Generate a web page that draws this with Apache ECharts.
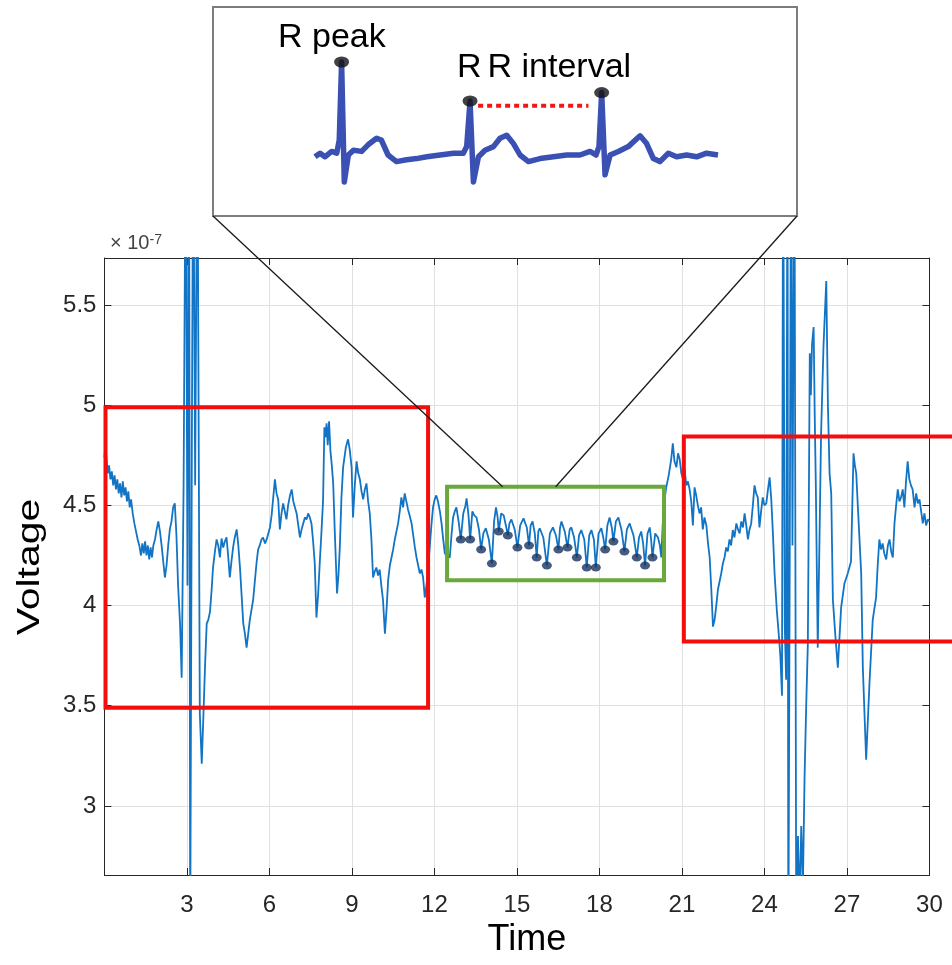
<!DOCTYPE html>
<html>
<head>
<meta charset="utf-8">
<title>ECG voltage trace with clean and noisy windows</title>
<script src="https://cdn.jsdelivr.net/npm/echarts@6/dist/echarts.min.js"></script>
<style>
  html, body { margin: 0; padding: 0; background: #ffffff; }
  #chart { width: 952px; height: 965px; }
</style>
</head>
<body>
<div id="chart"></div>
<script>
// ---------------------------------------------------------------
// Recorded voltage (units of 1e-7 V) against time (s)
// ---------------------------------------------------------------
const voltageTrace = [
  // 0 – 2.8 s : slow decay after start
  [0.00,4.74],[0.04,4.80],[0.08,4.73],[0.12,4.66],[0.17,4.70],[0.22,4.63],[0.27,4.67],[0.32,4.60],
  [0.37,4.65],[0.42,4.58],[0.47,4.63],[0.52,4.56],[0.57,4.61],[0.62,4.54],[0.67,4.62],[0.72,4.55],
  [0.77,4.59],[0.82,4.52],[0.87,4.57],[0.92,4.49],[0.97,4.53],[1.03,4.46],[1.09,4.41],[1.15,4.37],
  [1.21,4.33],[1.27,4.30],[1.33,4.25],[1.38,4.31],[1.43,4.26],[1.48,4.32],[1.53,4.25],[1.58,4.30],
  [1.63,4.23],[1.68,4.29],[1.73,4.24],[1.78,4.30],[1.84,4.33],[1.90,4.38],[1.96,4.42],[2.02,4.37],
  [2.08,4.30],[2.14,4.22],[2.20,4.14],[2.26,4.20],[2.32,4.30],[2.38,4.38],[2.44,4.42],[2.50,4.49],
  [2.56,4.51],[2.62,4.35],[2.68,4.10],[2.75,3.91],[2.81,3.64],
  // motion artefact around 3 s
  [2.88,4.60],[2.96,6.50],[3.02,4.10],[3.08,6.50],[3.12,2.30],[3.18,4.80],[3.23,6.50],[3.30,4.60],
  [3.38,6.50],[3.47,3.46],[3.54,3.21],
  // 3.5 – 12.8 s
  [3.60,3.45],[3.66,3.70],[3.72,3.91],[3.78,3.93],[3.84,3.97],[3.90,4.08],[3.95,4.19],[4.02,4.27],
  [4.08,4.33],[4.14,4.30],[4.20,4.24],[4.26,4.335],[4.32,4.29],[4.38,4.32],[4.44,4.34],[4.50,4.25],
  [4.56,4.14],[4.62,4.22],[4.68,4.29],[4.74,4.34],[4.81,4.38],[4.87,4.30],[4.93,4.19],[4.99,4.05],
  [5.05,3.91],[5.11,3.86],[5.17,3.79],[5.23,3.86],[5.29,3.93],[5.35,3.98],[5.41,4.03],[5.47,4.12],
  [5.53,4.21],[5.59,4.28],[5.65,4.30],[5.71,4.33],[5.77,4.34],[5.84,4.31],[5.90,4.33],[5.96,4.36],
  [6.02,4.39],[6.08,4.45],[6.14,4.54],[6.20,4.63],[6.26,4.56],[6.32,4.53],[6.38,4.38],[6.44,4.46],
  [6.50,4.51],[6.56,4.47],[6.62,4.43],[6.68,4.50],[6.75,4.55],[6.81,4.58],[6.87,4.52],[6.93,4.49],
  [6.99,4.46],[7.05,4.40],[7.11,4.34],[7.17,4.38],[7.23,4.41],[7.29,4.44],[7.35,4.43],[7.41,4.46],
  [7.47,4.44],[7.53,4.41],[7.59,4.32],[7.65,4.21],[7.71,3.94],[7.77,4.05],[7.83,4.21],[7.89,4.36],
  [7.95,4.52],[8.00,4.89],[8.04,4.84],[8.08,4.91],[8.12,4.80],[8.17,4.92],[8.22,4.77],[8.27,4.70],
  [8.32,4.61],[8.38,4.36],[8.46,4.06],[8.51,4.15],[8.56,4.29],[8.62,4.54],[8.68,4.69],[8.73,4.74],
  [8.78,4.79],[8.86,4.83],[8.92,4.78],[8.99,4.69],[9.04,4.44],[9.11,4.61],[9.17,4.72],[9.23,4.66],
  [9.29,4.63],[9.35,4.57],[9.41,4.53],[9.47,4.58],[9.53,4.61],[9.59,4.52],[9.65,4.46],[9.71,4.33],
  [9.77,4.14],[9.83,4.17],[9.89,4.19],[9.95,4.15],[10.01,4.18],[10.07,4.10],[10.13,4.03],[10.20,3.86],
  [10.26,3.98],[10.32,4.13],[10.38,4.20],[10.44,4.24],[10.50,4.28],[10.56,4.33],[10.62,4.37],[10.68,4.41],
  [10.74,4.47],[10.80,4.54],[10.86,4.49],[10.92,4.56],[10.98,4.52],[11.04,4.48],[11.10,4.45],[11.17,4.41],
  [11.23,4.35],[11.29,4.29],[11.35,4.24],[11.41,4.20],[11.47,4.16],[11.53,4.18],[11.59,4.14],[11.65,4.04],
  [11.71,4.10],[11.77,4.18],[11.83,4.29],[11.89,4.40],[11.95,4.49],[12.01,4.53],[12.07,4.55],[12.13,4.52],
  [12.20,4.47],[12.26,4.41],[12.32,4.33],[12.38,4.26],[12.47,4.25],[12.56,4.24],[12.62,4.35],[12.68,4.44],
  [12.74,4.47],
  // 12.8 – 20.3 s : regular beats
  [12.80,4.49],[12.88,4.42],[13.05,4.46],[13.13,4.50],[13.17,4.535],[13.24,4.45],[13.38,4.47],[13.45,4.45],
  [13.53,4.44],[13.62,4.38],[13.78,4.36],[13.87,4.386],[13.98,4.33],[14.17,4.42],[14.24,4.49],[14.30,4.44],
  [14.43,4.46],[14.52,4.45],[14.60,4.40],[14.73,4.41],[14.80,4.43],[14.92,4.38],[15.12,4.40],[15.24,4.435],
  [15.36,4.39],[15.50,4.40],[15.57,4.42],[15.65,4.36],[15.78,4.37],[15.83,4.386],[15.96,4.34],[16.20,4.36],
  [16.31,4.39],[16.42,4.35],[16.57,4.39],[16.62,4.42],[16.74,4.37],[16.92,4.38],[16.98,4.39],[17.08,4.34],
  [17.26,4.35],[17.34,4.377],[17.45,4.33],[17.63,4.35],[17.71,4.377],[17.80,4.33],[17.97,4.36],[18.07,4.386],
  [18.14,4.34],[18.29,4.40],[18.37,4.44],[18.45,4.39],[18.60,4.42],[18.69,4.44],[18.80,4.38],[19.00,4.38],
  [19.10,4.41],[19.24,4.35],[19.44,4.34],[19.52,4.37],[19.59,4.31],[19.75,4.36],[19.83,4.39],[19.88,4.33],
  [20.03,4.36],[20.13,4.34],[20.20,4.30],[20.25,4.24],
  // 20.3 – 24.6 s
  [20.30,4.40],[20.37,4.53],[20.43,4.59],[20.52,4.65],[20.61,4.73],[20.67,4.81],[20.73,4.72],[20.80,4.69],
  [20.86,4.76],[20.92,4.73],[20.98,4.66],[21.04,4.63],[21.10,4.68],[21.16,4.60],[21.22,4.62],[21.28,4.58],
  [21.34,4.52],[21.40,4.40],[21.46,4.59],[21.52,4.55],[21.58,4.50],[21.64,4.46],[21.70,4.49],[21.76,4.38],
  [21.82,4.44],[21.89,4.40],[21.95,4.31],[22.01,4.24],[22.07,4.08],[22.13,3.895],[22.19,3.93],[22.25,4.00],
  [22.31,4.08],[22.37,4.12],[22.43,4.16],[22.49,4.21],[22.55,4.24],[22.61,4.29],[22.67,4.27],[22.73,4.33],
  [22.79,4.30],[22.85,4.377],[22.91,4.34],[22.98,4.41],[23.04,4.38],[23.10,4.36],[23.16,4.42],[23.22,4.39],
  [23.28,4.46],[23.34,4.40],[23.40,4.33],[23.46,4.38],[23.52,4.41],[23.58,4.50],[23.64,4.60],[23.70,4.56],
  [23.76,4.54],[23.82,4.39],[23.88,4.47],[23.94,4.54],[24.00,4.50],[24.07,4.51],[24.13,4.58],[24.19,4.64],
  [24.25,4.53],[24.31,4.36],[24.37,4.16],[24.45,3.98],[24.52,3.86],[24.58,3.75],
  // motion artefact around 25 s
  [24.64,3.55],[24.68,6.50],[24.74,3.90],[24.79,3.63],[24.84,6.50],[24.87,2.20],[24.93,4.60],[24.97,6.50],
  [25.02,4.30],[25.09,6.50],[25.16,2.30],[25.22,2.85],[25.28,2.50],[25.34,2.90],[25.40,2.60],[25.46,3.14],
  [25.52,3.50],[25.58,3.81],[25.62,4.60],[25.65,5.26],[25.69,5.05],[25.73,5.30],[25.79,5.39],[25.83,4.95],
  [25.87,4.60],[25.94,3.79],[26.00,4.30],[26.06,4.85],[26.15,5.30],[26.25,5.62],[26.31,5.00],[26.37,4.66],
  [26.43,4.56],[26.49,4.03],[26.58,3.85],[26.67,3.69],[26.79,3.99],[26.91,4.11],[27.03,4.16],[27.15,4.22],
  [27.24,4.76],[27.29,4.70],[27.34,4.66],[27.40,4.49],[27.52,4.16],[27.58,3.69],[27.70,3.23],[27.82,3.61],
  [27.94,3.93],[28.06,4.04],[28.12,4.20],[28.18,4.33],[28.24,4.28],[28.30,4.31],[28.36,4.26],[28.43,4.23],
  [28.49,4.30],[28.55,4.33],[28.61,4.27],[28.67,4.24],[28.73,4.41],[28.79,4.50],[28.85,4.58],[28.91,4.52],
  [28.97,4.54],[29.03,4.58],[29.09,4.49],[29.15,4.62],[29.21,4.72],[29.27,4.63],[29.33,4.60],[29.39,4.58],
  [29.46,4.49],[29.52,4.56],[29.58,4.51],[29.64,4.53],[29.70,4.47],[29.76,4.41],[29.82,4.46],[29.88,4.40],
  [29.94,4.43],[30.00,4.42]
];

// Beats detected inside the clean window (local minima of the trace)
const detectedBeats = [
  [12.96,4.33],[13.30,4.33],[13.70,4.28],[14.09,4.21],[14.34,4.37],[14.67,4.35],[15.02,4.29],
  [15.44,4.30],[15.72,4.24],[16.09,4.20],[16.51,4.28],[16.84,4.29],[17.18,4.24],[17.54,4.19],
  [17.87,4.19],[18.21,4.28],[18.51,4.32],[18.91,4.27],[19.36,4.24],[19.66,4.20],[19.93,4.24]
];

// Annotated windows [tStart, tEnd, vLow, vHigh]
const noisyWindows = [
  [0.04, 11.77, 3.49, 4.99],
  [21.07, 31.50, 3.82, 4.844]
];
const cleanWindow = [12.46, 20.35, 4.126, 4.593];
// Points on the clean window's top edge where the magnifier lines meet it
const magnifierAnchors = [[14.48, 4.593], [16.41, 4.593]];

// Schematic ECG used in the magnifier (time in s, amplitude in mV)
const schematicEcg = [
  [0.006,-0.03],[0.036,0.03],[0.065,-0.03],[0.105,0.06],[0.135,0.03],[0.150,0.25],[0.164,1.55],
  [0.180,-0.45],[0.204,0.00],[0.234,0.08],[0.283,0.06],[0.321,0.17],[0.372,0.28],[0.400,0.25],
  [0.440,0.00],[0.490,-0.11],[0.550,-0.08],[0.610,-0.06],[0.670,-0.03],[0.749,0.00],[0.828,0.03],
  [0.887,0.03],[0.907,0.14],[0.927,0.90],[0.947,-0.45],[0.977,-0.03],[1.016,0.08],[1.066,0.14],
  [1.105,0.28],[1.145,0.33],[1.185,0.19],[1.224,0.00],[1.274,-0.11],[1.343,-0.06],[1.422,-0.03],
  [1.501,0.00],[1.580,0.00],[1.640,0.06],[1.675,0.00],[1.693,0.14],[1.709,1.04],[1.729,-0.33],
  [1.759,0.00],[1.808,0.06],[1.867,0.14],[1.937,0.32],[1.976,0.19],[2.016,-0.06],[2.055,-0.11],
  [2.105,0.03],[2.154,-0.03],[2.214,0.00],[2.273,-0.03],[2.332,0.03],[2.400,0.00]
];
const schematicPeaks = [[0.164,1.55],[0.927,0.90],[1.709,1.04]];
const rrSpan = [[0.975,0.82],[1.630,0.82]];

// ---------------------------------------------------------------
const signal = voltageTrace.concat(detectedBeats).sort((a, b) => a[0] - b[0]);

const SANS = '"Liberation Sans", Arial, sans-serif';
const AXIS_COLOR = '#262626';
const GRID_COLOR = '#e0e0e0';

const chart = echarts.init(document.getElementById('chart'), null, { renderer: 'canvas' });

const boxAxisBase = {
  type: 'value',
  axisLine: { show: true, onZero: false, lineStyle: { color: AXIS_COLOR, width: 1 } },
  axisTick: { show: true, inside: true, length: 7, lineStyle: { color: AXIS_COLOR, width: 1 } }
};

const option = {
  animation: false,
  backgroundColor: '#ffffff',
  grid: [
    { left: 104.4, right: 22.6, top: 258, bottom: 90 },
    { left: 314, right: 234, top: 56, bottom: 774 }
  ],
  xAxis: [
    Object.assign({}, boxAxisBase, {
      gridIndex: 0, position: 'bottom', min: 0, max: 30, interval: 3,
      axisLabel: {
        color: AXIS_COLOR, fontFamily: SANS, fontSize: 24, margin: 18,
        formatter: v => (v === 0 ? '' : String(v))
      },
      splitLine: { show: true, lineStyle: { color: GRID_COLOR, width: 1 } },
      name: 'Time', nameLocation: 'middle', nameGap: 47,
      nameTextStyle: { color: '#000', fontFamily: SANS, fontSize: 36, padding: [0, 0, 0, 20] }
    }),
    Object.assign({}, boxAxisBase, {
      gridIndex: 0, position: 'top', min: 0, max: 30, interval: 3,
      axisLabel: { show: false }, splitLine: { show: false }
    }),
    { gridIndex: 1, type: 'value', min: 0, max: 2.4, show: false }
  ],
  yAxis: [
    Object.assign({}, boxAxisBase, {
      gridIndex: 0, position: 'left', min: 2.655, max: 5.735, splitNumber: 5,
      axisLabel: {
        color: AXIS_COLOR, fontFamily: SANS, fontSize: 24, margin: 8,
        showMinLabel: false, showMaxLabel: false
      },
      splitLine: { show: true, lineStyle: { color: GRID_COLOR, width: 1 } }
    }),
    Object.assign({}, boxAxisBase, {
      gridIndex: 0, position: 'right', min: 2.655, max: 5.735, splitNumber: 5,
      axisLabel: { show: false }, splitLine: { show: false }
    }),
    { gridIndex: 1, type: 'value', min: -0.6, max: 1.65, show: false }
  ],
  series: [
    {
      name: 'Voltage', type: 'line', xAxisIndex: 0, yAxisIndex: 0,
      data: signal, symbol: 'none', clip: true, z: 2,
      lineStyle: { color: '#1274c4', width: 1.8 }
    },
    {
      name: 'Detected beats', type: 'scatter', xAxisIndex: 0, yAxisIndex: 0,
      data: detectedBeats, symbol: 'circle', symbolSize: [10, 8], z: 3,
      itemStyle: { color: '#16325f' }
    },
    {
      name: 'ECG', type: 'line', xAxisIndex: 2, yAxisIndex: 2,
      data: schematicEcg, symbol: 'none', clip: false, z: 2,
      lineStyle: { color: '#3a50b2', width: 5.5, join: 'round' }
    },
    {
      name: 'RR interval', type: 'line', xAxisIndex: 2, yAxisIndex: 2,
      data: rrSpan, symbol: 'none', clip: false, z: 3,
      lineStyle: { color: '#f21616', width: 4, type: [5, 4] }
    },
    {
      name: 'R peak', type: 'scatter', xAxisIndex: 2, yAxisIndex: 2,
      data: schematicPeaks, symbol: 'circle', symbolSize: [15, 11], z: 4,
      itemStyle: { color: '#111111' }
    }
  ]
};

chart.setOption(option);

// Overlay: magnifier frame, connector lines, annotated windows and axis text
function toPx(p) { return chart.convertToPixel({ seriesIndex: 0 }, p); }
function windowRect(w) {
  const a = toPx([w[0], w[3]]);
  const b = toPx([w[1], w[2]]);
  return { x: a[0], y: a[1], width: b[0] - a[0], height: b[1] - a[1] };
}

const frame = { x: 213, y: 7, width: 584, height: 209 };
const anchorL = toPx(magnifierAnchors[0]);
const anchorR = toPx(magnifierAnchors[1]);

const graphics = [
  {
    type: 'rect', z: 0, shape: frame,
    style: { fill: '#ffffff', stroke: '#7d7d7d', lineWidth: 2 }
  },
  {
    type: 'line', z: 20,
    shape: { x1: frame.x, y1: frame.y + frame.height, x2: anchorL[0], y2: anchorL[1] },
    style: { stroke: '#1a1a1a', lineWidth: 1.3 }
  },
  {
    type: 'line', z: 20,
    shape: { x1: frame.x + frame.width, y1: frame.y + frame.height, x2: anchorR[0], y2: anchorR[1] },
    style: { stroke: '#1a1a1a', lineWidth: 1.3 }
  },
  {
    type: 'text', z: 20, x: 278, y: 38,
    style: { text: 'R peak', font: '34px ' + SANS, fill: '#000', align: 'left', verticalAlign: 'middle' }
  },
  {
    type: 'text', z: 20, x: 457, y: 68,
    style: {
      text: '{a|R}{b|R interval}', align: 'left', verticalAlign: 'middle', fill: '#000',
      rich: {
        a: { font: '34px ' + SANS, fill: '#000', padding: [0, 6, 0, 0] },
        b: { font: '34px ' + SANS, fill: '#000' }
      }
    }
  },
  {
    type: 'text', z: 20, x: 30, y: 567, rotation: Math.PI / 2, scaleX: 1.28,
    style: { text: 'Voltage', font: '32px ' + SANS, fill: '#000', align: 'center', verticalAlign: 'middle' }
  },
  {
    type: 'text', z: 20, x: 110, y: 243,
    style: {
      text: '{a|× 10}{b|-7}', align: 'left', verticalAlign: 'middle',
      rich: {
        a: { font: '20px ' + SANS, fill: '#444' },
        b: { font: '14px ' + SANS, fill: '#444', verticalAlign: 'top' }
      }
    }
  }
];

noisyWindows.forEach(w => {
  graphics.push({
    type: 'rect', z: 15, shape: windowRect(w),
    style: { fill: 'none', stroke: '#f40d0d', lineWidth: 4 }
  });
});
graphics.push({
  type: 'rect', z: 15, shape: windowRect(cleanWindow),
  style: { fill: 'none', stroke: '#6aa83b', lineWidth: 4 }
});

chart.setOption({ graphic: graphics });
</script>
</body>
</html>
